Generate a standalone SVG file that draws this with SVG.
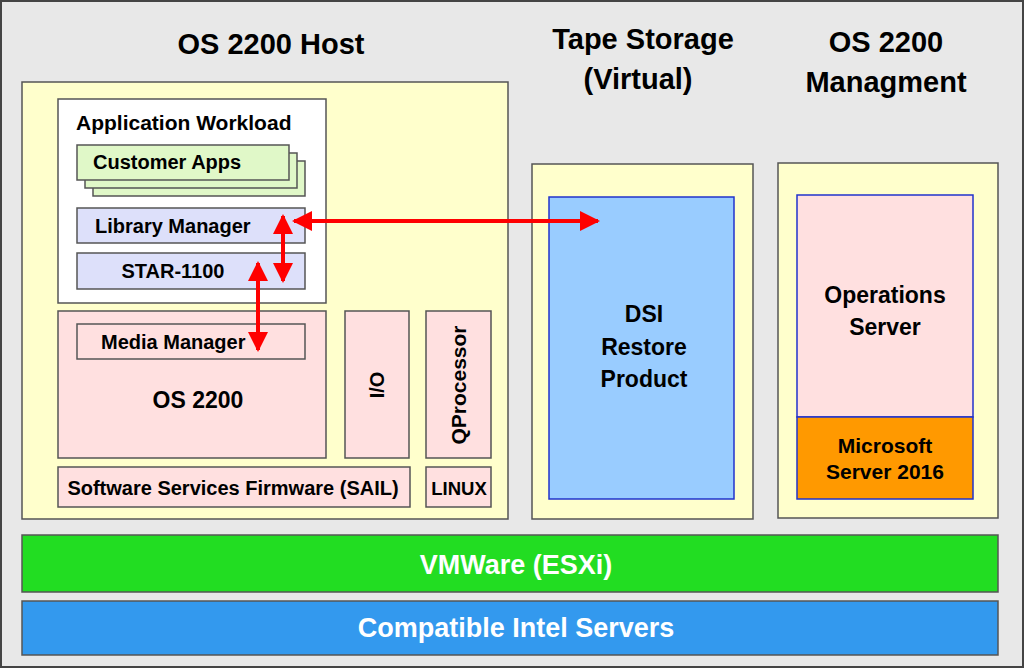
<svg xmlns="http://www.w3.org/2000/svg" width="1024" height="668" viewBox="0 0 1024 668">
<style>
.b{stroke:#555;stroke-width:1.5}
.t{font-family:"Liberation Sans",Arial,sans-serif;font-weight:bold;fill:#000;text-anchor:middle}
.st{text-anchor:start}
.s{font-size:20px}
.l{font-size:29px}
.m{font-size:23px}
.a{stroke:#f00;stroke-width:4;fill:none;marker-start:url(#h);marker-end:url(#h)}
</style>
<defs>
<marker id="h" viewBox="0 0 10 10" refX="9" refY="5" markerWidth="5" markerHeight="5" orient="auto-start-reverse"><path d="M0,0L10,5L0,10Z" fill="#f00"/></marker>
</defs>
<rect x="1" y="1" width="1022" height="666" fill="#e8e8e8" stroke="#444" stroke-width="2"/>
<text class="t l" x="271" y="54">OS 2200 Host</text>
<text class="t l" x="643" y="49">Tape Storage</text>
<text class="t l" x="638" y="89">(Virtual)</text>
<text class="t l" x="886" y="52">OS 2200</text>
<text class="t l" x="886" y="92">Managment</text>
<g id="host"><rect class="b" x="22" y="82" width="486" height="437" fill="#ffffcc"/></g>
<g id="appworkload"><rect class="b" x="58" y="99" width="268" height="204" fill="#fff"/><text class="t st" x="76" y="130" style="font-size:21px">Application Workload</text></g>
<g id="customerapps">
<rect class="b" x="93" y="161" width="212" height="35" fill="#e0f8c8"/>
<rect class="b" x="85" y="153" width="212" height="35" fill="#e0f8c8"/>
<rect class="b" x="77" y="145" width="212" height="35" fill="#e0f8c8"/>
<text class="t s st" x="93" y="169">Customer Apps</text></g>
<g id="libmgr"><rect class="b" x="77" y="208" width="228" height="35" fill="#dde0fa"/><text class="t s st" x="95" y="233">Library Manager</text></g>
<g id="star"><rect class="b" x="77" y="253" width="228" height="36" fill="#dde0fa"/><text class="t s" x="173" y="278">STAR-1100</text></g>
<g id="os2200"><rect class="b" x="58" y="311" width="268" height="147" fill="#ffe0e0"/><text class="t m" x="198" y="408">OS 2200</text></g>
<g id="mediamgr"><rect class="b" x="77" y="324" width="228" height="35" fill="#ffe0e0"/><text class="t s st" x="101" y="349">Media Manager</text></g>
<g id="io"><rect class="b" x="345" y="311" width="64" height="147" fill="#ffe0e0"/><text class="t s" transform="translate(384,385) rotate(-90)">I/O</text></g>
<g id="qproc"><rect class="b" x="426" y="311" width="65" height="147" fill="#ffe0e0"/><text class="t s" transform="translate(466,385) rotate(-90)" style="font-size:21px">QProcessor</text></g>
<g id="sail"><rect class="b" x="58" y="467" width="352" height="40" fill="#ffe0e0"/><text class="t s" x="233" y="495">Software Services Firmware (SAIL)</text></g>
<g id="linux"><rect class="b" x="426" y="467" width="65" height="40" fill="#ffe0e0"/><text class="t" x="459" y="495" style="font-size:18.5px">LINUX</text></g>
<g id="tape"><rect class="b" x="532" y="164" width="221" height="355" fill="#ffffcc"/></g>
<g id="dsi"><rect x="549" y="197" width="185" height="302" fill="#99ccff" stroke="#2233cc" stroke-width="1.5"/>
<text class="t m" x="644" y="322">DSI</text><text class="t m" x="644" y="355">Restore</text><text class="t m" x="644" y="387">Product</text></g>
<g id="mgmt"><rect class="b" x="778" y="163" width="220" height="355" fill="#ffffcc"/></g>
<g id="ops"><rect x="797" y="195" width="176" height="222" fill="#ffe0e0" stroke="#2233cc" stroke-width="1.5"/>
<text class="t m" x="885" y="303">Operations</text><text class="t m" x="885" y="335">Server</text></g>
<g id="ms"><rect x="797" y="417" width="176" height="82" fill="#ff9900" stroke="#2233cc" stroke-width="1.5"/>
<text class="t" x="885" y="453" style="font-size:21px">Microsoft</text><text class="t" x="885" y="479" style="font-size:21px">Server 2016</text></g>
<g id="vmware"><rect class="b" x="22" y="535" width="976" height="57" fill="#22dd22"/><text class="t" x="516" y="574" style="font-size:27px;fill:#fff">VMWare (ESXi)</text></g>
<g id="intel"><rect class="b" x="22" y="601" width="976" height="54" fill="#3399ee"/><text class="t" x="516" y="637" style="font-size:27px;fill:#fff">Compatible Intel Servers</text></g>
<g id="connectors">
<line class="a" x1="294" y1="221" x2="598" y2="221"/>
<line class="a" x1="283" y1="216" x2="283" y2="281"/>
<line class="a" x1="258" y1="263" x2="258" y2="350"/>
</g>
</svg>
